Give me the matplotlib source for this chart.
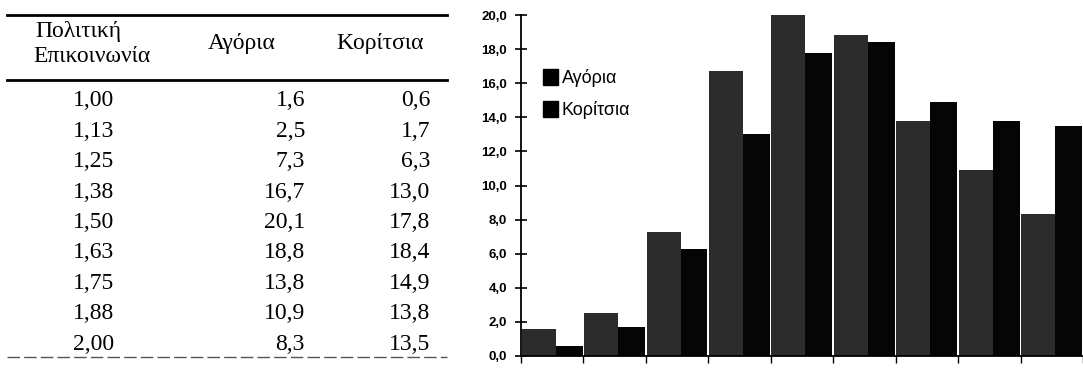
import matplotlib
matplotlib.use("Agg")
import matplotlib.pyplot as plt
from matplotlib import font_manager
from matplotlib.ticker import FuncFormatter, FixedLocator

# ---- data ----
categories = ["1,00", "1,13", "1,25", "1,38", "1,50", "1,63", "1,75", "1,88", "2,00"]
boys = [1.6, 2.5, 7.3, 16.7, 20.1, 18.8, 13.8, 10.9, 8.3]
girls = [0.6, 1.7, 6.3, 13.0, 17.8, 18.4, 14.9, 13.8, 13.5]
header_cat = "Πολιτική\nΕπικοινωνία"
label_boys = "Αγόρια"
label_girls = "Κορίτσια"
yticks = [0, 2, 4, 6, 8, 10, 12, 14, 16, 18, 20]

W, H = 1083, 377
fig = plt.figure(figsize=(W / 100, H / 100), dpi=100)

installed = {f.name for f in font_manager.fontManager.ttflist}
narrow = "Liberation Sans Narrow" if "Liberation Sans Narrow" in installed else "Liberation Sans"
serif = "Liberation Serif" if "Liberation Serif" in installed else "DejaVu Serif"

def fx(px):
    return px / W

def fy(py):
    return 1 - py / H

def fmt(v):
    return f"{v:.1f}".replace(".", ",")

# ---- table (left) ----
tfs = 17
fig.text(fx(78), fy(31), header_cat.split("\n")[0], ha="center", va="center",
         fontsize=tfs, family=serif)
fig.text(fx(92), fy(56), header_cat.split("\n")[1], ha="center", va="center",
         fontsize=tfs, family=serif)
fig.text(fx(242), fy(44), label_boys, ha="center", va="center", fontsize=tfs, family=serif)
fig.text(fx(380), fy(44), label_girls, ha="center", va="center", fontsize=tfs, family=serif)

for k, (c, b, g) in enumerate(zip(categories, boys, girls)):
    y = 101 + 30.4 * k
    fig.text(fx(94), fy(y), c, ha="center", va="center", fontsize=tfs, family=serif)
    fig.text(fx(305), fy(y), fmt(b), ha="right", va="center", fontsize=tfs, family=serif)
    fig.text(fx(430), fy(y), fmt(g), ha="right", va="center", fontsize=tfs, family=serif)

fig.add_artist(plt.Line2D([fx(7), fx(447)], [fy(15), fy(15)], color="black", lw=2))
fig.add_artist(plt.Line2D([fx(7), fx(447)], [fy(80), fy(80)], color="black", lw=2))
fig.add_artist(plt.Line2D([fx(7), fx(447)], [fy(357), fy(357)], color="#555555", lw=1,
                          linestyle=(0, (9, 3))))

# ---- chart (right) ----
ax = fig.add_axes([fx(521), fy(356), fx(1083) - fx(521), fy(15) - fy(356)])
n = len(categories)
xs = list(range(n))
bb = ax.bar([x + 0.01 for x in xs], boys, width=0.545, align="edge",
            color="#2c2c2c", label=label_boys, zorder=2)
gb = ax.bar([x + 0.555 for x in xs], girls, width=0.43, align="edge",
            color="#050505", label=label_girls, zorder=2)

ax.set_xlim(0, n)
ax.set_ylim(0, 20)
for s in ["top", "right"]:
    ax.spines[s].set_visible(False)
ax.spines["left"].set_linewidth(1.3)
ax.spines["bottom"].set_linewidth(1.3)
ax.yaxis.set_major_locator(FixedLocator(yticks))
ax.yaxis.set_major_formatter(FuncFormatter(lambda v, p: fmt(v)))
ax.tick_params(axis="y", direction="inout", length=8, width=1.2, pad=6,
               labelsize=9.5)
for lab in ax.get_yticklabels():
    lab.set_fontfamily(narrow)
    lab.set_fontweight("bold")
ax.xaxis.set_major_locator(FixedLocator(list(range(n + 1))))
ax.tick_params(axis="x", direction="out", length=5, width=1.0, labelbottom=False)

leg = ax.legend(handles=[bb, gb], loc="upper left", bbox_to_anchor=(fx(543), fy(69)),
                bbox_transform=fig.transFigure, frameon=False,
                handlelength=0.85, handleheight=0.95, handletextpad=0.2,
                labelspacing=0.8, borderpad=0, borderaxespad=0,
                prop={"family": narrow, "size": 13})
for h in leg.legend_handles:
    h.set_color("black")

fig.savefig("out.png", dpi=100)
